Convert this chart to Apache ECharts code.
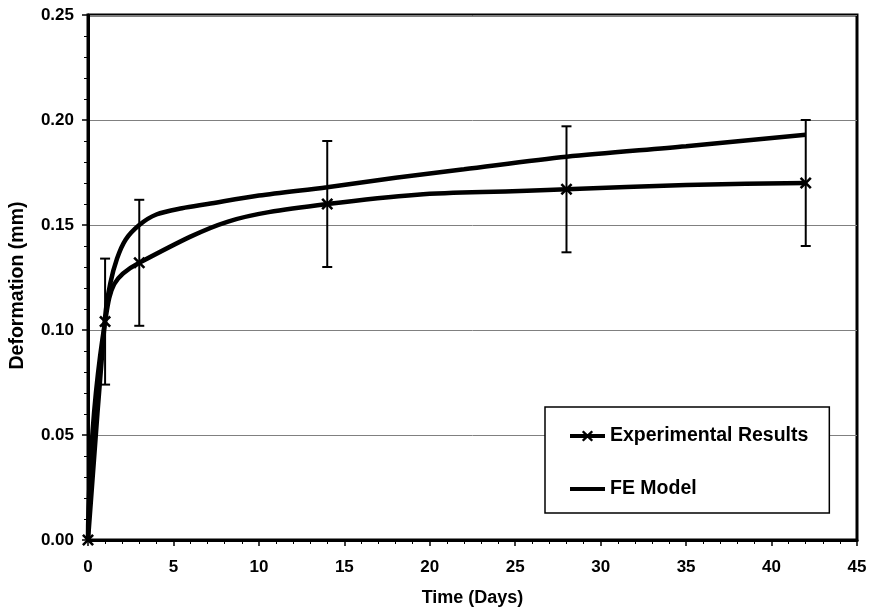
<!DOCTYPE html>
<html>
<head>
<meta charset="utf-8">
<script src="https://cdn.jsdelivr.net/npm/echarts@6/dist/echarts.min.js"></script>
<style>
  html, body { margin: 0; padding: 0; background: #fff; }
  #chart { width: 872px; height: 613px; }
</style>
</head>
<body>
<div id="chart"></div>
<script>
// experimental points (days, mm) and their error half-width
const expDays = [0, 1, 3, 14, 28, 42];
const expDef = [0, 0.104, 0.132, 0.160, 0.167, 0.170];
const expErr = [0, 0.03, 0.03, 0.03, 0.03, 0.03];

// FE model curve
const feDays = [0, 1, 1.3, 1.7, 2.2, 3, 4, 5.5, 7, 10, 14, 18, 22, 28, 35, 42];
const feDef = [0, 0.106, 0.122, 0.134, 0.143, 0.150, 0.155, 0.158, 0.160, 0.164, 0.168, 0.1725, 0.1765, 0.1825, 0.1875, 0.193];

const font = "'Liberation Sans', Arial, sans-serif";

const chart = echarts.init(document.getElementById("chart"));

const expData = expDays.map((d, i) => [d, expDef[i]]);
const feData = feDays.map((d, i) => [d, feDef[i]]);
// error bars: [x, low, high], skip the zero point
const errData = expDays
  .map((d, i) => [d, expDef[i] - expErr[i], expDef[i] + expErr[i]])
  .filter((r, i) => expErr[i] > 0);

const xMark = "path://M0,1.5L1.5,0L5,3.5L8.5,0L10,1.5L6.5,5L10,8.5L8.5,10L5,6.5L1.5,10L0,8.5L3.5,5Z";

chart.setOption({
  animation: false,
  backgroundColor: "#fff",
  grid: {
    left: 87,
    right: 15,
    top: 15,
    bottom: 73,
    show: true,
    borderColor: "#000",
    borderWidth: 3,
    backgroundColor: "transparent",
  },
  legend: {
    orient: "vertical",
    left: 545,
    top: 407,
    padding: [19, 21, 14, 23],
    itemGap: 33,
    itemWidth: 35,
    itemHeight: 14,
    backgroundColor: "#fff",
    borderColor: "#000",
    borderWidth: 1.5,
    borderRadius: 0,
    lineStyle: { width: 4 },
    data: [
      { name: "Experimental Results" },
      { name: "FE Model", icon: "path://M0,0h35v4h-35z" },
    ],
    textStyle: {
      fontFamily: font,
      fontWeight: "bold",
      fontSize: 19.5,
      color: "#000",
    },
  },
  xAxis: {
    type: "value",
    min: 0,
    max: 45,
    interval: 5,
    name: "Time (Days)",
    nameLocation: "middle",
    nameGap: 49,
    nameTextStyle: {
      fontFamily: font,
      fontWeight: "bold",
      fontSize: 18,
      color: "#000",
    },
    axisLine: { lineStyle: { color: "#000", width: 3 } },
    axisTick: { inside: false, length: 6, lineStyle: { color: "#000", width: 1.5 } },
    minorTick: { show: true, splitNumber: 5, length: 4, lineStyle: { color: "#000", width: 1 } },
    splitLine: { show: false },
    axisLabel: {
      margin: 19,
      fontFamily: font,
      fontWeight: "bold",
      fontSize: 17,
      color: "#000",
    },
  },
  yAxis: {
    type: "value",
    min: 0,
    max: 0.25,
    interval: 0.05,
    name: "Deformation (mm)",
    nameLocation: "middle",
    nameGap: 60,
    nameTextStyle: {
      fontFamily: font,
      fontWeight: "bold",
      fontSize: 19.5,
      color: "#000",
      padding: [0, 16, 0, 0],
    },
    axisLine: { show: true, lineStyle: { color: "#000", width: 3 } },
    axisTick: { show: true, inside: false, length: 6, lineStyle: { color: "#000", width: 1.5 } },
    minorTick: { show: true, splitNumber: 5, length: 4, lineStyle: { color: "#000", width: 1 } },
    splitLine: { show: true, lineStyle: { color: "#808080", width: 1 } },
    axisLabel: {
      margin: 14,
      fontFamily: font,
      fontWeight: "bold",
      fontSize: 17,
      color: "#000",
      formatter: (v) => v.toFixed(2),
    },
  },
  series: [
    {
      name: "Error",
      type: "custom",
      data: errData,
      encode: { x: 0, y: [1, 2] },
      z: 3,
      renderItem: (params, api) => {
        const x = api.value(0);
        const lo = api.coord([x, api.value(1)]);
        const hi = api.coord([x, api.value(2)]);
        const cap = 5;
        const style = { stroke: "#000", lineWidth: 2 };
        return {
          type: "group",
          children: [
            { type: "line", shape: { x1: lo[0], y1: lo[1], x2: hi[0], y2: hi[1] }, style },
            { type: "line", shape: { x1: lo[0] - cap, y1: lo[1], x2: lo[0] + cap, y2: lo[1] }, style },
            { type: "line", shape: { x1: hi[0] - cap, y1: hi[1], x2: hi[0] + cap, y2: hi[1] }, style },
          ],
        };
      },
    },
    {
      name: "FE Model",
      type: "line",
      data: feData,
      smooth: 0.3,
      symbol: "none",
      color: "#000",
      lineStyle: { color: "#000", width: 4.5 },
      z: 4,
    },
    {
      name: "Experimental Results",
      type: "line",
      data: expData,
      smooth: 0.5,
      symbol: xMark,
      symbolSize: 12,
      showAllSymbol: true,
      color: "#000",
      itemStyle: { color: "#000" },
      lineStyle: { color: "#000", width: 4.5 },
      z: 5,
    },
  ],
});
</script>
</body>
</html>
